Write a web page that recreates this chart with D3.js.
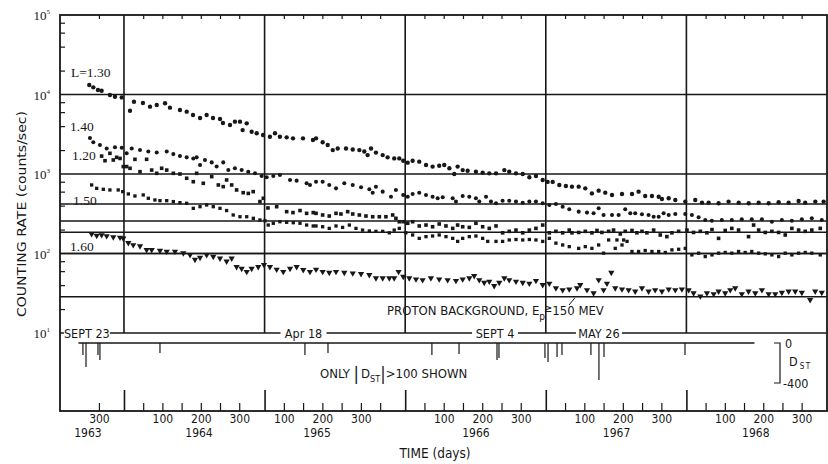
<!DOCTYPE html>
<html><head><meta charset="utf-8">
<script src="https://cdn.jsdelivr.net/npm/d3@7"></script>
<style>
body{margin:0;background:#fff;}
svg{display:block;}
</style></head><body>
<svg id="c" width="828" height="464"></svg>
<script>
// ---------------- DATA (decimal year, counts/sec) ----------------
const seriesNames = ["L=1.30", "1.40", "1.20", "1.50", "1.60"];
const s130 = [[1963.753,13160],[1963.782,12300],[1963.815,11390],[1963.841,11150],[1963.900,9860],[1963.936,9380],[1963.984,9200],[1964.043,6240],[1964.071,8120],[1964.135,7820],[1964.185,7030],[1964.233,7380],[1964.292,7750],[1964.327,6830],[1964.398,6380],[1964.446,6080],[1964.491,5520],[1964.541,5060],[1964.588,5520],[1964.633,5060],[1964.683,4920],[1964.704,4380],[1964.754,4130],[1964.789,4550],[1964.825,4550],[1964.844,3570],[1964.873,4340],[1964.908,3400],[1964.944,3250],[1964.989,3090],[1965.038,2940],[1965.074,3250],[1965.109,2940],[1965.157,2890],[1965.202,2810],[1965.273,2810],[1965.344,2680],[1965.366,2810],[1965.413,2510],[1965.449,2320],[1965.485,2000],[1965.520,2090],[1965.579,2090],[1965.627,2030],[1965.674,2000],[1965.709,1920],[1965.733,1730],[1965.757,2090],[1965.792,1860],[1965.840,1730],[1965.875,1620],[1965.922,1570],[1965.958,1570],[1965.986,1470],[1966.018,1390],[1966.053,1470],[1966.100,1430],[1966.148,1300],[1966.195,1240],[1966.242,1270],[1966.278,1300],[1966.314,1180],[1966.349,1000],[1966.373,1240],[1966.409,1120],[1966.444,1100],[1966.503,1070],[1966.551,1040],[1966.598,1020],[1966.646,1020],[1966.705,1120],[1966.740,1070],[1966.788,1020],[1966.836,1000],[1966.883,910],[1966.930,945],[1966.978,841],[1967.013,795],[1967.049,795],[1967.096,728],[1967.143,707],[1967.186,693],[1967.234,693],[1967.281,660],[1967.328,570],[1967.376,617],[1967.423,582],[1967.471,545],[1967.542,561],[1967.613,561],[1967.660,600],[1967.707,529],[1967.755,529],[1967.803,518],[1967.826,485],[1967.874,495],[1967.921,471],[1967.992,450],[1968.063,471],[1968.111,436],[1968.158,436],[1968.229,428],[1968.300,450],[1968.372,436],[1968.443,428],[1968.514,436],[1968.585,428],[1968.656,441],[1968.727,436],[1968.798,458],[1968.845,436],[1968.917,450],[1968.976,450]];
const s140 = [[1963.758,2830],[1963.782,2510],[1963.829,2320],[1963.877,2090],[1963.936,2170],[1963.984,2140],[1964.019,1820],[1964.055,2090],[1964.114,2000],[1964.173,1920],[1964.233,1860],[1964.304,1920],[1964.351,1780],[1964.398,1680],[1964.446,1620],[1964.493,1570],[1964.517,1620],[1964.541,1300],[1964.576,1500],[1964.624,1400],[1964.659,1240],[1964.706,1400],[1964.742,1120],[1964.789,1180],[1964.837,1120],[1964.884,1070],[1964.932,1020],[1964.979,945],[1965.015,910],[1965.062,945],[1965.109,973],[1965.181,841],[1965.228,825],[1965.299,764],[1965.323,728],[1965.366,800],[1965.413,800],[1965.460,728],[1965.508,660],[1965.567,764],[1965.627,728],[1965.686,680],[1965.745,642],[1965.769,582],[1965.792,693],[1965.840,600],[1965.899,518],[1965.934,630],[1965.986,545],[1966.018,518],[1966.053,561],[1966.100,582],[1966.148,545],[1966.195,518],[1966.231,495],[1966.267,510],[1966.338,495],[1966.361,450],[1966.409,529],[1966.456,518],[1966.503,495],[1966.527,450],[1966.575,518],[1966.610,450],[1966.646,428],[1966.693,462],[1966.740,462],[1966.788,450],[1966.836,436],[1966.883,450],[1966.930,450],[1966.978,428],[1967.025,408],[1967.072,420],[1967.120,388],[1967.167,360],[1967.234,336],[1967.293,327],[1967.340,320],[1967.376,370],[1967.411,305],[1967.471,305],[1967.518,305],[1967.565,360],[1967.601,320],[1967.636,320],[1967.684,311],[1967.731,305],[1967.767,290],[1967.803,290],[1967.838,320],[1967.874,305],[1967.921,314],[1967.992,314],[1968.039,305],[1968.087,286],[1968.134,264],[1968.181,258],[1968.252,264],[1968.323,264],[1968.394,270],[1968.465,270],[1968.537,270],[1968.608,251],[1968.679,264],[1968.750,258],[1968.821,270],[1968.892,277],[1968.963,264]];
const s120 = [[1963.841,1680],[1963.865,1470],[1963.900,1820],[1963.924,1500],[1963.948,1620],[1963.972,1570],[1963.995,1240],[1964.019,1240],[1964.043,1180],[1964.078,1530],[1964.114,1070],[1964.161,1530],[1964.197,1120],[1964.233,1020],[1964.268,1180],[1964.304,1120],[1964.351,1020],[1964.398,1000],[1964.446,884],[1964.493,800],[1964.517,1020],[1964.564,764],[1964.624,927],[1964.671,728],[1964.706,693],[1964.730,841],[1964.766,728],[1964.801,630],[1964.848,582],[1964.884,570],[1964.919,600],[1964.967,450],[1964.991,495],[1965.024,374],[1965.086,388],[1965.157,336],[1965.202,327],[1965.252,347],[1965.299,320],[1965.346,327],[1965.366,320],[1965.413,305],[1965.460,296],[1965.508,320],[1965.543,314],[1965.591,336],[1965.627,314],[1965.674,305],[1965.721,296],[1965.769,290],[1965.816,290],[1965.863,290],[1965.911,305],[1965.934,277],[1965.958,251],[1965.986,251],[1966.018,240],[1966.053,251],[1966.100,222],[1966.148,228],[1966.195,217],[1966.242,235],[1966.290,222],[1966.338,207],[1966.373,228],[1966.409,217],[1966.456,213],[1966.503,240],[1966.551,217],[1966.598,207],[1966.646,222],[1966.693,182],[1966.740,190],[1966.788,197],[1966.836,182],[1966.883,197],[1966.930,207],[1966.978,228],[1967.025,182],[1967.072,190],[1967.120,182],[1967.167,197],[1967.186,182],[1967.234,184],[1967.281,190],[1967.328,182],[1967.364,195],[1967.399,184],[1967.447,190],[1967.482,197],[1967.530,176],[1967.565,190],[1967.613,195],[1967.648,182],[1967.684,190],[1967.719,182],[1967.767,197],[1967.814,171],[1967.861,163],[1967.897,182],[1967.945,190],[1968.004,197],[1968.051,184],[1968.099,190],[1968.146,182],[1968.182,200],[1968.229,155],[1968.276,195],[1968.323,207],[1968.371,197],[1968.442,163],[1968.478,228],[1968.514,197],[1968.561,184],[1968.608,190],[1968.656,184],[1968.703,171],[1968.750,207],[1968.798,197],[1968.845,190],[1968.892,197],[1968.952,207]];
const s150 = [[1963.770,728],[1963.806,660],[1963.853,642],[1963.900,630],[1963.959,630],[1963.991,600],[1964.031,561],[1964.078,529],[1964.137,545],[1964.173,495],[1964.220,471],[1964.256,462],[1964.304,462],[1964.351,450],[1964.398,436],[1964.446,428],[1964.493,370],[1964.541,388],[1964.588,408],[1964.635,388],[1964.683,370],[1964.730,347],[1964.777,305],[1964.825,290],[1964.873,290],[1964.920,277],[1964.967,264],[1965.003,258],[1965.026,228],[1965.062,240],[1965.109,251],[1965.157,247],[1965.204,244],[1965.252,240],[1965.299,228],[1965.346,222],[1965.366,222],[1965.413,217],[1965.460,207],[1965.508,222],[1965.555,213],[1965.603,228],[1965.650,207],[1965.697,197],[1965.745,192],[1965.792,190],[1965.840,190],[1965.887,182],[1965.922,197],[1965.958,207],[1966.005,182],[1966.053,171],[1966.100,155],[1966.148,163],[1966.195,166],[1966.242,171],[1966.290,163],[1966.338,155],[1966.373,142],[1966.409,155],[1966.456,163],[1966.503,166],[1966.551,155],[1966.587,142],[1966.646,142],[1966.693,142],[1966.740,148],[1966.788,150],[1966.836,148],[1966.883,150],[1966.930,148],[1966.978,142],[1967.025,155],[1967.072,135],[1967.120,128],[1967.167,122],[1967.234,116],[1967.281,122],[1967.328,116],[1967.376,128],[1967.411,101],[1967.447,148],[1967.494,116],[1967.506,148],[1967.542,128],[1967.554,148],[1967.578,142],[1967.613,106],[1967.660,106],[1967.707,109],[1967.755,106],[1967.803,106],[1967.850,103],[1967.897,111],[1967.945,113],[1967.992,116],[1968.039,96],[1968.087,101],[1968.134,91.5],[1968.182,96],[1968.229,101],[1968.276,103],[1968.323,101],[1968.371,106],[1968.418,103],[1968.465,106],[1968.514,101],[1968.561,99],[1968.608,96],[1968.656,91.5],[1968.703,101],[1968.750,96],[1968.798,101],[1968.845,103],[1968.892,101],[1968.952,96]];
const s160 = [[1963.770,176],[1963.806,168],[1963.841,171],[1963.877,166],[1963.924,161],[1963.972,159],[1963.995,155],[1964.031,136],[1964.066,128],[1964.114,124],[1964.161,111],[1964.197,111],[1964.256,109],[1964.304,106],[1964.363,106],[1964.422,101],[1964.470,96],[1964.505,84],[1964.541,89],[1964.588,96],[1964.635,91.5],[1964.683,87],[1964.730,79.5],[1964.766,87],[1964.801,67.8],[1964.837,64.5],[1964.873,59],[1964.908,64.5],[1964.955,67.8],[1964.996,71.9],[1965.038,67.8],[1965.086,63],[1965.133,59],[1965.181,64.5],[1965.228,67.8],[1965.275,62.2],[1965.323,59],[1965.366,63],[1965.413,59],[1965.460,57.5],[1965.508,59],[1965.567,57.5],[1965.627,56.5],[1965.686,55.4],[1965.745,53.8],[1965.792,49],[1965.840,49],[1965.887,49],[1965.922,49],[1965.953,59],[1965.986,51.3],[1966.029,49],[1966.077,47.5],[1966.124,46.5],[1966.183,49],[1966.242,47.5],[1966.302,46.5],[1966.361,45.5],[1966.409,47.5],[1966.456,49],[1966.491,52.3],[1966.527,46.5],[1966.562,43],[1966.598,44.5],[1966.633,39.1],[1966.669,43],[1966.705,49],[1966.740,46.5],[1966.788,44.5],[1966.836,43],[1966.883,42],[1966.930,45.5],[1966.978,40.3],[1967.025,42],[1967.072,36.7],[1967.120,34.8],[1967.167,35.5],[1967.222,36.7],[1967.245,40.3],[1967.293,34.8],[1967.340,31.8],[1967.376,46.5],[1967.411,34.8],[1967.435,42],[1967.466,57.5],[1967.494,36.7],[1967.542,35.5],[1967.589,34.8],[1967.636,33.5],[1967.684,36.7],[1967.731,33.5],[1967.778,34.8],[1967.826,33.5],[1967.874,35.5],[1967.921,34.8],[1967.968,35.5],[1968.016,34.8],[1968.051,31.8],[1968.099,29],[1968.146,31.8],[1968.194,31],[1968.229,33.5],[1968.276,31.8],[1968.312,34.8],[1968.347,36.7],[1968.394,31],[1968.442,33.5],[1968.490,31.8],[1968.537,34.8],[1968.585,31],[1968.632,31],[1968.679,32.2],[1968.727,33.5],[1968.774,33.5],[1968.821,32.2],[1968.880,26.1],[1968.916,33.5],[1968.963,32.2]];
const allSeries = [s130, s140, s120, s150, s160];

const decadeLines = [1e4, 1e3, 1e2, 1e1];
const backgroundLevels = [420, 256, 185, 100, 28.6];
const yTickValues = [1e1, 1e2, 1e3, 1e4, 1e5];
const yTickExps = ["1", "2", "3", "4", "5"];
const years = [1963, 1964, 1965, 1966, 1967, 1968];
const yearBoundaries = [1964, 1965, 1966, 1967, 1968];
const tickDays = [50, 100, 150, 200, 250, 300];
// where each year's day labels were printed (day of year, label), as in the original figure
const dayLabelPositions = {1963: [[300,"300"]], 1964: [[100,"100"],[200,"200"],[300,"300"]], 1965: [[50,"100"],[150,"200"],[250,"300"]], 1966: [[100,"100"],[200,"200"],[300,"300"]], 1967: [[100,"100"],[200,"200"],[300,"300"]], 1968: [[100,"100"],[200,"200"],[300,"300"]]};
const yearLabelPositions = [[1963, 1963.74], [1964, 1964.53], [1965, 1965.37], [1966, 1966.50], [1967, 1967.50], [1968, 1968.49]];

// D_ST storms (decimal year, nT), only |Dst| > 100
const dstStorms = [[1963.708,-120],[1963.730,-240],[1963.815,-120],[1963.829,-170],[1964.256,-100],[1965.287,-120],[1965.451,-100],[1966.190,-120],[1966.383,-110],[1966.653,-170],[1966.667,-150],[1966.994,-150],[1967.016,-190],[1967.080,-140],[1967.115,-120],[1967.321,-120],[1967.378,-370],[1967.414,-140],[1967.990,-120]];
const dstCoverage = [1963.676, 1968.484];
const stormLabels = [["SEPT 23", 1963.736], ["Apr 18", 1965.277], ["SEPT 4", 1966.639], ["MAY 26", 1967.378]];

// ---------------- CHART ----------------
const ink = "#171717";
const sansN = "'Liberation Sans Narrow','DejaVu Sans Condensed','Liberation Sans',sans-serif";
const serif = "'Liberation Serif','DejaVu Serif',serif";
const svg = d3.select("#c");
const x = d3.scaleLinear().domain([1963.545, 1969]).range([60, 827]);
const y = d3.scaleLog().domain([10, 1e5]).range([333, 15]);
const yD = d3.scaleLinear().domain([0, -400]).range([343, 383]);
const bottomY = 411;
const yearLen = Y => (Y % 4 === 0 ? 366 : 365);
const tOf = (Y, d) => Y + d / yearLen(Y);
const [x0, x1] = x.range();
const yTop = y(1e5), y10 = y(10);

// frame
svg.append("rect").attr("x", x0).attr("y", yTop).attr("width", x1 - x0).attr("height", bottomY - yTop)
  .attr("fill", "none").attr("stroke", ink).attr("stroke-width", 1.8);

// horizontal lines (decades and background levels)
svg.append("g").selectAll("line").data(decadeLines.concat(backgroundLevels)).join("line")
  .attr("x1", x0).attr("x2", x1).attr("y1", d => y(d)).attr("y2", d => y(d))
  .attr("stroke", ink).attr("stroke-width", 1.5);

// vertical year lines
svg.append("g").selectAll("line").data(yearBoundaries).join("line")
  .attr("x1", d => x(d)).attr("x2", d => x(d)).attr("y1", yTop).attr("y2", y10)
  .attr("stroke", ink).attr("stroke-width", 1.6);

// day ticks
const dayTicks = [];
years.forEach(Y => tickDays.forEach(d => { const t = tOf(Y, d); if (t > 1963.75) dayTicks.push(t); }));

function styleAxis(g) {
  g.selectAll("path.domain").remove();
  g.selectAll("line").attr("stroke", ink).attr("stroke-width", 1.2);
  g.selectAll("text").attr("fill", ink).attr("font-family", sansN).attr("font-size", 12);
}
svg.append("g").attr("transform", `translate(0,${yTop})`)
  .call(d3.axisBottom(x).tickValues(dayTicks).tickSize(4).tickFormat("")).call(styleAxis);
svg.append("g").attr("transform", `translate(0,${bottomY})`)
  .call(d3.axisBottom(x).tickValues(dayTicks).tickSize(-8).tickFormat("")).call(styleAxis);
svg.append("g").attr("transform", `translate(0,${bottomY})`)
  .call(d3.axisBottom(x).tickValues(yearBoundaries).tickSize(-21).tickFormat("")).call(styleAxis)
  .selectAll("line").attr("stroke-width", 1.6);

// day labels
const labelTicks = [];
years.forEach(Y => dayLabelPositions[Y].forEach(([d, lab]) => labelTicks.push({t: tOf(Y, d), lab})));
svg.append("g").attr("transform", `translate(0,${bottomY})`)
  .call(d3.axisBottom(x).tickValues(labelTicks.map(d => d.t)).tickSize(0).tickPadding(3)
    .tickFormat((d, i) => labelTicks[i].lab)).call(styleAxis);
svg.append("g").attr("transform", `translate(0,${bottomY})`)
  .call(d3.axisBottom(x).tickValues(yearLabelPositions.map(d => d[1])).tickSize(0).tickPadding(17)
    .tickFormat((d, i) => String(yearLabelPositions[i][0]))).call(styleAxis);

svg.append("text").attr("x", 435).attr("y", 458).attr("text-anchor", "middle")
  .attr("font-family", sansN).attr("font-size", 13.5).attr("fill", ink).text("TIME (days)");

// left minor ticks (2,4,6,8 per decade)
const minorTicks = [];
[10, 100, 1000, 10000].forEach(b => [2, 4, 6, 8].forEach(m => minorTicks.push(b * m)));
svg.append("g").attr("transform", `translate(${x0},0)`)
  .call(d3.axisRight(y).tickValues(minorTicks).tickSize(5).tickFormat("")).call(styleAxis);

// y tick labels
const yl = svg.append("g").selectAll("text").data(yTickValues).join("text")
  .attr("x", 50).attr("y", (d, i) => y(d) + 5).attr("text-anchor", "end")
  .attr("font-family", serif).attr("font-size", 13).attr("fill", ink);
yl.append("tspan").text("10");
yl.append("tspan").attr("font-size", 7).attr("dy", -6).text((d, i) => yTickExps[i]);

// y axis title
svg.append("text").attr("transform", "translate(26,214) rotate(-90)").attr("text-anchor", "middle")
  .attr("font-family", "'DejaVu Sans',sans-serif").attr("font-size", 13).attr("fill", ink)
  .attr("textLength", 206).attr("lengthAdjust", "spacingAndGlyphs")
  .text("COUNTING RATE (counts/sec)");

// series markers
const sym = [
  d3.symbol().type(d3.symbolCircle).size(15),
  d3.symbol().type(d3.symbolCircle).size(13),
  d3.symbol().type(d3.symbolSquare).size(13),
  d3.symbol().type(d3.symbolSquare).size(11),
  d3.symbol().type(d3.symbolTriangle).size(17)
];
allSeries.forEach((s, i) => {
  svg.append("g").selectAll("path").data(s).join("path")
    .attr("d", sym[i]())
    .attr("transform", d => `translate(${x(d[0])},${y(d[1])})` + (i === 4 ? " rotate(180)" : ""))
    .attr("fill", ink);
});

// series labels
const labelPos = [[71, 77], [70, 131], [72, 160], [73, 205], [70, 251]];
svg.append("g").selectAll("text").data(seriesNames).join("text")
  .attr("x", (d, i) => labelPos[i][0]).attr("y", (d, i) => labelPos[i][1])
  .attr("font-family", serif).attr("font-size", 13.5).attr("fill", ink).text(d => d);

// storm labels on the 10^1 line
const sl = svg.append("g").selectAll("g").data(stormLabels).join("g")
  .attr("transform", d => `translate(${x(d[1])},${y10})`);
sl.append("rect").attr("x", -23).attr("y", -7).attr("width", 46).attr("height", 12).attr("fill", "#fff");
sl.append("text").attr("text-anchor", "middle").attr("y", 4.5)
  .attr("font-family", sansN).attr("font-size", 12.5).attr("fill", ink).text(d => d[0]);

// DST panel
svg.append("line").attr("x1", x(dstCoverage[0])).attr("x2", x(dstCoverage[1]))
  .attr("y1", yD(0)).attr("y2", yD(0)).attr("stroke", ink).attr("stroke-width", 1.3);
svg.append("g").selectAll("line").data(dstStorms).join("line")
  .attr("x1", d => x(d[0])).attr("x2", d => x(d[0])).attr("y1", yD(0)).attr("y2", d => yD(d[1]))
  .attr("stroke", ink).attr("stroke-width", 1.2);

// DST bracket scale
const bx = 780;
svg.append("path").attr("d", `M${bx - 6},${yD(0)}H${bx}V${yD(-400)}H${bx - 6}`)
  .attr("fill", "none").attr("stroke", ink).attr("stroke-width", 1.2);
svg.append("text").attr("x", bx + 5).attr("y", yD(0) + 5).attr("font-family", sansN).attr("font-size", 12.5).attr("fill", ink).text("0");
const dl = svg.append("text").attr("x", bx + 9).attr("y", (yD(0) + yD(-400)) / 2 + 3).attr("font-family", sansN).attr("font-size", 12.5).attr("fill", ink);
dl.append("tspan").text("D");
dl.append("tspan").attr("font-size", 8).attr("dy", 3).attr("dx", 2).attr("letter-spacing", 1.5).text("ST");
svg.append("text").attr("x", bx + 3).attr("y", yD(-400) + 5).attr("font-family", sansN).attr("font-size", 12.5).attr("fill", ink).text("-400");

// "ONLY |DST| > 100 SHOWN"
const on = svg.append("text").attr("x", 320).attr("y", 378).attr("font-family", sansN).attr("font-size", 13).attr("fill", ink);
on.append("tspan").text("ONLY ");
on.append("tspan").attr("font-size", 18).attr("dy", 2).text("|");
on.append("tspan").attr("dy", -2).attr("dx", 2).text("D");
on.append("tspan").attr("font-size", 9).attr("dy", 4).text("ST");
on.append("tspan").attr("font-size", 18).attr("dy", -2).text("|");
on.append("tspan").attr("dy", -2).text(">100 SHOWN");

// proton background annotation
const pb = svg.append("text").attr("x", 387).attr("y", 315).attr("font-family", sansN).attr("font-size", 13).attr("fill", ink);
pb.append("tspan").text("PROTON BACKGROUND, E");
pb.append("tspan").attr("font-size", 10).attr("dy", 5).text("p");
pb.append("tspan").attr("dy", -8).attr("dx", -1).attr("font-size", 11).text("≥");
pb.append("tspan").attr("dy", 3).text("150 MEV");
svg.append("line").attr("x1", 569).attr("y1", 305).attr("x2", 575).attr("y2", y(28.6) + 1)
  .attr("stroke", ink).attr("stroke-width", 1);
</script>
</body></html>
